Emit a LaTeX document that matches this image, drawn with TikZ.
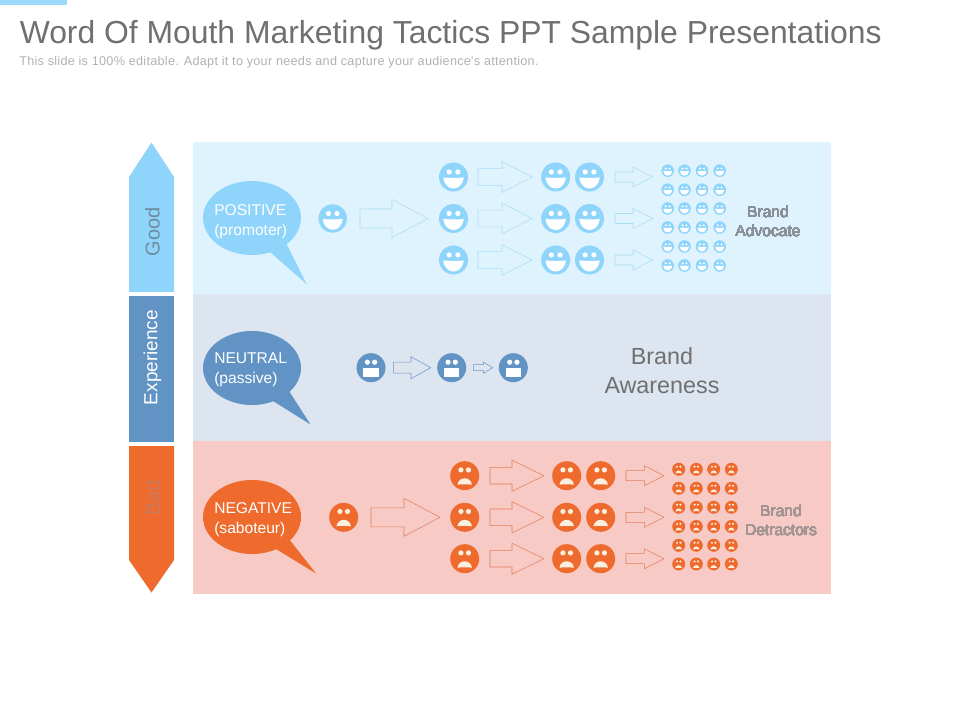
\documentclass[tikz,border=0pt]{standalone}
\usepackage{fontspec}
\setmainfont{Liberation Sans}
\newfontfamily\subfont[LetterSpace=2.1]{Liberation Sans}
\definecolor{pblue}{HTML}{8FD5FB}
\definecolor{mblue}{HTML}{6293C5}
\definecolor{oran}{HTML}{EF6A2D}
\definecolor{panelA}{HTML}{DFF3FE}
\definecolor{panelB}{HTML}{DDE5F0}
\definecolor{panelC}{HTML}{F7CAC5}
\definecolor{lineA}{HTML}{A9DDF8}
\definecolor{lineB}{HTML}{6F98C4}
\definecolor{lineC}{HTML}{E2805A}
\definecolor{titlegrey}{HTML}{707070}
\definecolor{subgrey}{HTML}{B2B2B2}
\definecolor{goodgrey}{HTML}{6F8C9E}
\definecolor{badred}{HTML}{CC7A5E}
\definecolor{advgrey}{HTML}{8A9098}
\definecolor{detgrey}{HTML}{A39595}
\definecolor{cream}{HTML}{FBEFE0}
\tikzset{
  blockarrow/.style={draw=#1,line width=0.4pt,line join=miter},
  bubbletext/.style={anchor=west,inner sep=0pt,text=white,align=left,font=\fontsize{11.7}{15}\selectfont},
  brandtext/.style={inner sep=0pt,align=center,text=#1,font=\fontsize{11.7}{14.5}\selectfont},
  sidelabel/.style={inner sep=0pt,rotate=90,text=#1,font=\fontsize{14.25}{16}\selectfont},
}
% x, y, tip x, head start x, head half height, shaft half height, colour
\newcommand{\blkarrow}[7]{%
  \draw[blockarrow=#7] (#1,#2-#6) -- (#4,#2-#6) -- (#4,#2-#5) -- (#3,#2) -- (#4,#2+#5) -- (#4,#2+#6) -- (#1,#2+#6) -- cycle;}
\newcommand{\happyface}[3]{%
  \begin{scope}[shift={(#1,#2)},scale=#3]
    \fill[pblue] (0,0) circle [radius=1];
    \fill[white] (-0.3,-0.35) circle [radius=0.18] (0.3,-0.35) circle [radius=0.18];
    \fill[white] (-0.7,0.03) .. controls (-0.3,0.08) and (0.3,0.08) .. (0.7,0.03) .. controls (0.6,1.05) and (-0.6,1.05) .. (-0.7,0.03) -- cycle;
  \end{scope}}
\newcommand{\plainface}[3]{%
  \begin{scope}[shift={(#1,#2)},scale=#3]
    \fill[mblue] (0,0) circle [radius=1];
    \fill[white] (-0.25,-0.38) circle [radius=0.18] (0.25,-0.38) circle [radius=0.18];
    \fill[white] (-0.52,0) rectangle (0.52,0.64);
  \end{scope}}
\newcommand{\sadface}[3]{%
  \begin{scope}[shift={(#1,#2)},scale=#3]
    \fill[oran] (0,0) circle [radius=1];
    \fill[cream] (-0.26,-0.4) circle [radius=0.18] (0.26,-0.4) circle [radius=0.18];
    \fill[cream] (-0.5,0.62) .. controls (-0.42,0.03) and (0.42,0.03) .. (0.5,0.62) .. controls (0.2,0.58) and (-0.2,0.58) .. (-0.5,0.62) -- cycle;
  \end{scope}}
\begin{document}
\begin{tikzpicture}[x=0.75pt,y=-0.75pt]
\useasboundingbox (0,0) rectangle (960,720);
\fill[white] (0,0) rectangle (960,720);
\fill[pblue!90!white] (0,0) rectangle (67,5);
\node[anchor=west,inner sep=0pt,text=titlegrey,font=\fontsize{23.9}{28}\selectfont] (title) at (19.5,35) {Word Of Mouth Marketing Tactics PPT Sample Presentations};
\node[anchor=west,inner sep=0pt,text=subgrey,font=\subfont\fontsize{9.5}{11}\selectfont] (subtitle) at (19,62.5) {This slide is 100\% editable. Adapt it to your needs and capture your audience's attention.};
% panels
\fill[panelA] (193,142) rectangle (831,294.5);
\fill[panelB] (193,294.5) rectangle (831,441);
\fill[panelC] (193,441) rectangle (831,594);
% side arrows
\fill[pblue] (151.5,142.5) -- (174,177) -- (174,292) -- (129,292) -- (129,177) -- cycle;
\fill[mblue] (129,296) rectangle (174,442);
\fill[oran] (129,446) -- (174,446) -- (174,560) -- (151.5,592.5) -- (129,560) -- cycle;
\node[sidelabel=goodgrey,font=\fontsize{15}{16}\selectfont] (good) at (152.5,232) {Good};
\node[sidelabel=white] (experience) at (152.5,357.5) {Experience};
\node[sidelabel=badred,font=\fontsize{15}{16}\selectfont] (bad) at (152.5,498) {Bad};
% bubbles
\fill[pblue] (252,218) ellipse [x radius=49,y radius=37];
\fill[pblue] (286,243) -- (306.5,284) -- (270,252) -- cycle;
\fill[mblue] (252,368) ellipse [x radius=49,y radius=37];
\fill[mblue] (289,391) -- (310.5,424.5) -- (273,401) -- cycle;
\fill[oran] (252,517) ellipse [x radius=49,y radius=37];
\fill[oran] (289,539) -- (316,573.5) -- (276,549) -- cycle;
\node[bubbletext] (pos) at (214,222) {POSITIVE\\(promoter)};
\node[bubbletext] (neu) at (214,370) {NEUTRAL\\(passive)};
\node[bubbletext] (neg) at (214,520) {NEGATIVE\\(saboteur)};
% positive row
\happyface{332.7}{218.5}{14.2}
\blkarrow{360}{218.5}{428}{392}{19}{9.5}{lineA}
\foreach \y in {177,218.5,260}{
  \happyface{453.5}{\y}{14.5}
  \blkarrow{478}{\y}{532}{502}{15.5}{8.3}{lineA}
  \happyface{555.7}{\y}{14.5}
  \happyface{589.5}{\y}{14.5}
  \blkarrow{615}{\y}{652.7}{633}{10}{5}{lineA}
}
\foreach \y in {170.7,189.7,208.5,227.5,246.5,265.5}
  \foreach \x in {667.7,684.5,702,719.7}
    \happyface{\x}{\y}{6.3}
\node[brandtext=advgrey] (adv) at (768,221.5) {Brand\\Advocate};
% neutral row
\plainface{371}{367.7}{14.5}
\blkarrow{393.3}{367.7}{430.7}{411}{11}{5.5}{lineB}
\plainface{451.7}{367.7}{14.5}
\blkarrow{473.3}{367.7}{492.7}{483.3}{5.5}{3}{lineB}
\plainface{513.3}{367.7}{14.5}
\node[inner sep=0pt,align=center,text=titlegrey,font=\fontsize{17.5}{21.75}\selectfont] (aware) at (662,370.5) {Brand\\Awareness};
% negative row
\sadface{343.7}{517.3}{14.5}
\blkarrow{371}{517.3}{440}{404}{19}{9.5}{lineC}
\foreach \y in {475.7,517.3,558.7}{
  \sadface{464.7}{\y}{14.5}
  \blkarrow{490}{\y}{544}{512}{15.5}{8.3}{lineC}
  \sadface{566.7}{\y}{14.5}
  \sadface{600.7}{\y}{14.5}
  \blkarrow{626}{\y}{664}{644.3}{10}{5}{lineC}
}
\foreach \y in {469.3,488.3,507.3,526.5,545.3,564}
  \foreach \x in {678.7,696.3,713.7,731.3}
    \sadface{\x}{\y}{6.5}
\node[brandtext=detgrey] (det) at (781,520.5) {Brand\\Detractors};
\end{tikzpicture}
\end{document}
